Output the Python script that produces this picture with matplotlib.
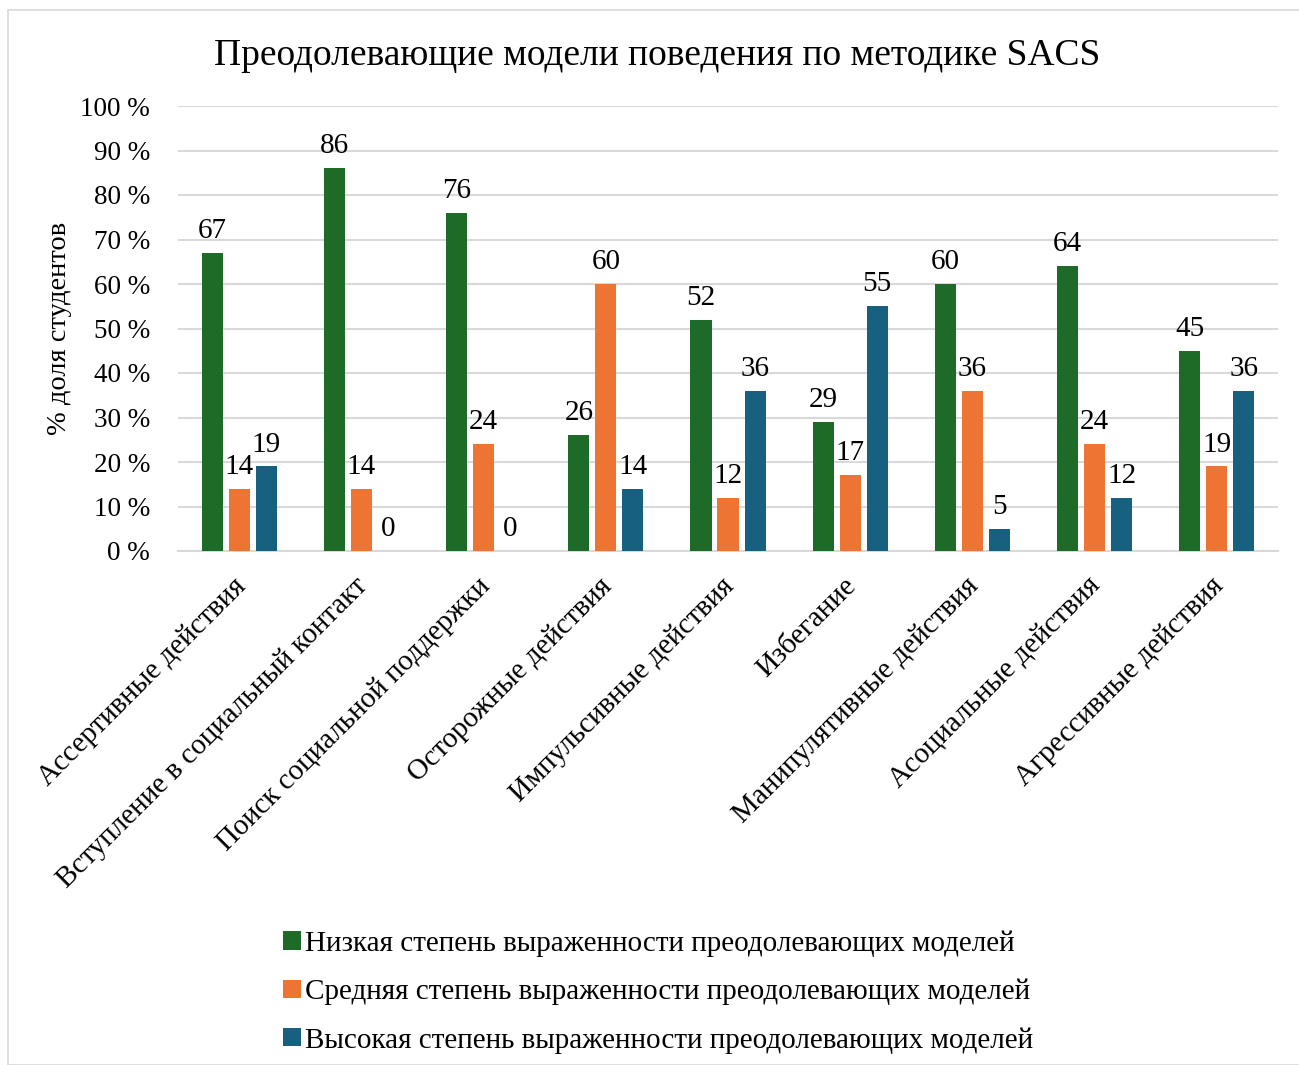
import numpy as np
import matplotlib
matplotlib.use("Agg")
from matplotlib import pyplot as plt
from matplotlib.patches import Rectangle
from matplotlib.transforms import ScaledTranslation

plt.rcParams['font.family'] = ['Liberation Serif', 'DejaVu Serif']

categories = [
    "Ассертивные действия",
    "Вступление в социальный контакт",
    "Поиск социальной поддержки",
    "Осторожные действия",
    "Импульсивные действия",
    "Избегание",
    "Манипулятивные действия",
    "Асоциальные действия",
    "Агрессивные действия",
]
low = [67, 86, 76, 26, 52, 29, 60, 64, 45]
medium = [14, 14, 24, 60, 12, 17, 36, 24, 19]
high = [19, 0, 0, 14, 36, 55, 5, 12, 36]
series_names = [
    "Низкая степень выраженности преодолевающих моделей",
    "Средняя степень выраженности преодолевающих моделей",
    "Высокая степень выраженности преодолевающих моделей",
]
colors = ["#1E6B28", "#ED7433", "#176080"]

W, H = 1299, 1065
fig = plt.figure(figsize=(W / 100, H / 100), dpi=100)
fig.patches.append(Rectangle((8 / W, 0), 1.2, 1 - 10 / H, transform=fig.transFigure,
                             fill=False, edgecolor="#D9D9D9", linewidth=1.2))

ax = fig.add_axes([178 / W, (H - 551) / H, 1100 / W, 445 / H])
x = np.arange(len(categories))
step = 0.221
width = 0.172
for i, (vals, color, name) in enumerate(zip([low, medium, high], colors, series_names)):
    pos = x + (i - 1) * step
    ax.bar(pos, vals, width, color=color, label=name, zorder=3)
    for p, v in zip(pos, vals):
        ax.text(p, v + 2.0, f"{v}", ha="center", va="bottom", fontsize=21, zorder=4)

ax.set_xlim(-0.5, len(categories) - 0.5)
ax.set_ylim(0, 100)
ax.set_yticks(range(0, 101, 10))
ax.set_yticklabels([f"{t} %" for t in range(0, 101, 10)], fontsize=19.5)
ax.yaxis.grid(True, color="#D9D9D9", linewidth=1.5, zorder=0)
ax.tick_params(axis="y", length=0, pad=20)
ax.tick_params(axis="x", length=0, pad=12)
for s in ["top", "right", "left"]:
    ax.spines[s].set_visible(False)
ax.spines["bottom"].set_color("#D9D9D9")
ax.spines["bottom"].set_linewidth(1.5)

ax.set_xticks(x)
ax.set_xticklabels(categories, rotation=45, ha="right", rotation_mode="anchor", fontsize=21)
# nudge the slanted category labels a little left and down
shift = ScaledTranslation(-7 / 100, -5 / 100, fig.dpi_scale_trans)
for lbl in ax.get_xticklabels():
    lbl.set_transform(lbl.get_transform() + shift)
ax.set_ylabel("% доля студентов", fontsize=20.5, labelpad=6)

fig.text(657 / W, 1 - 56 / H, "Преодолевающие модели поведения по методике SACS",
         ha="center", va="center", fontsize=27)

handles, labels = ax.get_legend_handles_labels()
fig.legend(handles, labels, loc="upper left", bbox_to_anchor=(257 / W, 1 - 904 / H),
           frameon=False, fontsize=21, handlelength=0.6, handleheight=0.6,
           handletextpad=0.15, labelspacing=0.75)

fig.savefig("out.png", dpi=100)
